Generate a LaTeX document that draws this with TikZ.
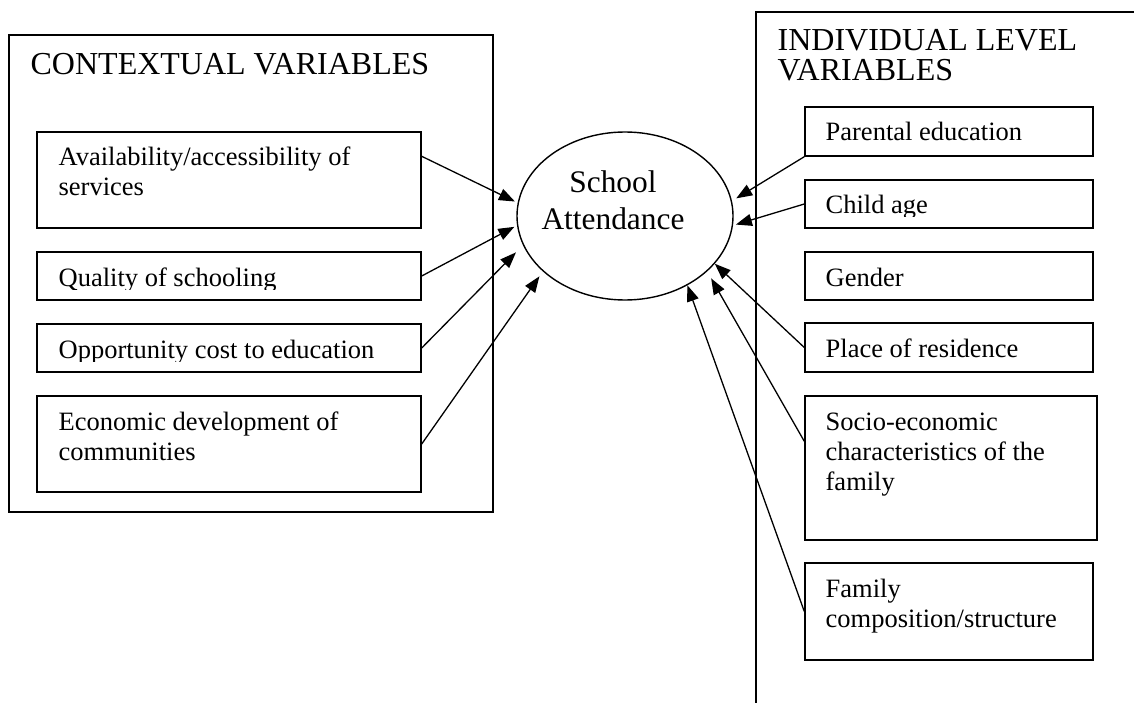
\documentclass[tikz,border=0pt]{standalone}
\usepackage{fontspec}
\setmainfont{Liberation Serif}
\usetikzlibrary{calc,shapes.geometric,arrows.meta}

\tikzset{
  varbox/.style={draw,rectangle,line width=1.4pt,inner sep=0pt,minimum width=288pt},
  vartext/.style={anchor=base west,inner sep=0pt,align=left,font=\fontsize{26.5}{30}\selectfont},
  grouptext/.style={anchor=base west,inner sep=0pt,align=left,font=\fontsize{32}{30}\selectfont},
}

\begin{document}
\begin{tikzpicture}[x=1pt,y=-1pt,line width=1.3pt,>={Triangle[length=16pt,width=12pt]}]
    \useasboundingbox (0,0) rectangle (1134,703);
    \clip (0,0) rectangle (1134,703);

    % the two groups (multi-line texts sit on their last baseline)
    \draw node at (251,273.5)[name=ctx,varbox,minimum width=484pt,minimum height=477pt]{};
    \draw node at (30,75)[name=ctxT,grouptext]{CONTEXTUAL VARIABLES};
    \draw node at (956,372)[name=ind,varbox,minimum width=400pt,minimum height=720pt]{};
    \draw node at (777,81)[name=indT,grouptext]{INDIVIDUAL LEVEL\\VARIABLES};

    \draw node at (625,216)[name=att,draw,ellipse,line width=1.4pt,inner sep=0pt,minimum width=216pt,minimum height=168pt]{};
    \draw node at (613,230)[name=attT,anchor=base,align=center,inner sep=0pt,font=\fontsize{31.4}{37}\selectfont]{School\\Attendance};

    % contextual
    \draw node at (229,180)[name=avail,varbox,minimum width=384pt,minimum height=96pt]{};
    \draw node at (229,276)[name=quality,varbox,minimum width=384pt,minimum height=48pt]{};
    \draw node at (229,348)[name=oppcost,varbox,minimum width=384pt,minimum height=48pt]{};
    \draw node at (229,444)[name=econ,varbox,minimum width=384pt,minimum height=96pt]{};
    \draw node at (58,196)[name=availT,vartext]{Availability/accessibility of\\services};
    \begin{scope}
    \clip (quality.north west) rectangle ([yshift=11pt]quality.south east);
    \draw node at (58,286)[name=qualityT,vartext]{Quality of schooling};
    \end{scope}
    \begin{scope}
    \clip (oppcost.north west) rectangle ([yshift=11pt]oppcost.south east);
    \draw node at (58,358)[name=oppcostT,vartext]{Opportunity cost to education};
    \end{scope}
    \draw node at (58,460)[name=econT,vartext]{Economic development of\\communities};

    % individual
    \draw node at (949,131.5)[name=parent,varbox,minimum height=49pt]{};
    \draw node at (949,204)[name=age,varbox,minimum height=48pt]{};
    \draw node at (949,276)[name=gender,varbox,minimum height=48pt]{};
    \draw node at (949,347.5)[name=resid,varbox,minimum height=49pt]{};
    \draw node at (951,468)[name=socio,varbox,minimum width=292pt,minimum height=144pt]{};
    \draw node at (949,611.5)[name=family,varbox,minimum height=97pt]{};
    \draw node at (825,141)[name=parentT,vartext]{Parental education};
    \begin{scope}
    \clip (age.north west) rectangle ([yshift=12pt]age.south east);
    \draw node at (825,214)[name=ageT,vartext]{Child age};
    \end{scope}
    \draw node at (825,286)[name=genderT,vartext]{Gender};
    \draw node at (825,357)[name=residT,vartext]{Place of residence};
    \draw node at (825,490)[name=socioT,vartext]{Socio-economic\\characteristics of the\\family};
    \draw node at (825,627)[name=familyT,vartext]{Family\\composition/structure};

    % arrows
    \draw[->,shorten >=3pt]($(avail.north east)+(0,25)$) -- (att.173);
    \draw[->,shorten >=3pt](quality.east) -- (att.185);
    \draw[->,shorten >=10pt](oppcost.east) -- (att.196);
    \draw[->,shorten >=6pt](econ.east) -- (att.214);
    \draw[->,shorten >=5pt](parent.south west) -- (att.8);
    \draw[->,shorten >=3pt](age.west) -- (att.355);
    \draw[->](resid.west) -- (att.332);
    \draw[->,shorten >=8pt]($(socio.north west)+(0,46)$) -- (att.326);
    \draw[->](family.west) -- (att.312);
  \end{tikzpicture}
\end{document}
